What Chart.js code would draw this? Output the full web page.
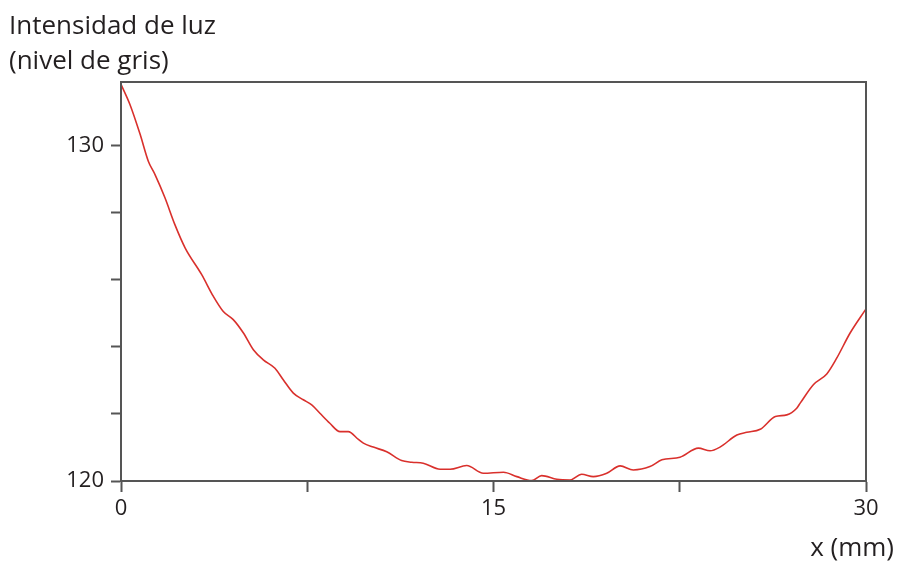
<!DOCTYPE html>
<html>
<head>
<meta charset="utf-8">
<script src="https://cdn.jsdelivr.net/npm/chart.js@4.4.0/dist/chart.umd.min.js"></script>
<style>
  html, body { margin: 0; padding: 0; background: #fff; }
  #wrap { width: 898px; height: 561px; position: relative; }
</style>
</head>
<body>
<div id="wrap"><canvas id="lightChart" width="898" height="561"></canvas></div>
<script>
// position along the sample (mm)
const xPositions = [
  0, 0.36, 0.77, 1.10, 1.37, 1.77, 2.17, 2.58, 3.25, 3.72, 4.12, 4.52, 4.93, 5.33, 5.73,
  6.20, 6.54, 6.94, 7.34, 7.68, 8.01, 8.41, 8.82, 9.15, 9.56, 9.76, 10.16, 10.70, 11.30,
  11.71, 12.17, 12.85, 13.25, 13.92, 14.59, 15.40, 15.94, 16.54, 16.94, 17.55, 18.08,
  18.55, 19.02, 19.56, 20.10, 20.63, 21.30, 21.78, 22.51, 23.25, 23.72, 24.12, 24.80,
  25.20, 25.74, 26.35, 26.81, 27.21, 27.35, 27.88, 28.42, 28.82, 29.36, 30.00
];
// grey level
const greyLevels = [
  131.82, 131.22, 130.33, 129.53, 129.13, 128.44, 127.64, 126.95, 126.15, 125.50, 125.05,
  124.81, 124.41, 123.91, 123.61, 123.36, 123.01, 122.62, 122.42, 122.27, 122.02, 121.72,
  121.47, 121.47, 121.24, 121.13, 121.01, 120.87, 120.61, 120.56, 120.53, 120.35, 120.35,
  120.46, 120.23, 120.26, 120.13, 120.01, 120.16, 120.05, 120.03, 120.20, 120.13, 120.23,
  120.45, 120.33, 120.43, 120.63, 120.71, 120.98, 120.90, 121.01, 121.37, 121.45, 121.54,
  121.92, 121.97, 122.17, 122.32, 122.87, 123.19, 123.66, 124.41, 125.13
];
const xTickLabels = [0, 15, 30];
const yTickLabels = [120, 130];

const axisColor = '#555';
const textColor = '#231f20';
const fontFamily = '"Open Sans", "Noto Sans", sans-serif';

// frame around the plot + free-standing axis titles
const framePlugin = {
  id: 'frame',
  afterDraw(chart) {
    const { ctx, chartArea } = chart;
    ctx.save();
    ctx.strokeStyle = axisColor;
    ctx.lineWidth = 2;
    ctx.strokeRect(chartArea.left, chartArea.top, chartArea.right - chartArea.left, chartArea.bottom - chartArea.top);
    ctx.fillStyle = textColor;
    ctx.font = '26px ' + fontFamily;
    ctx.textAlign = 'left';
    ctx.textBaseline = 'alphabetic';
    ctx.fillText('Intensidad de luz', 9, 34);
    ctx.fillText('(nivel de gris)', 9, 69);
    ctx.textAlign = 'right';
    ctx.fillText('x (mm)', 894, 556);
    ctx.restore();
  },
};

const data = xPositions.map((x, i) => ({ x: x, y: greyLevels[i] }));

new Chart(document.getElementById('lightChart'), {
  type: 'scatter',
  data: {
    datasets: [
      {
        data: data,
        showLine: true,
        borderColor: '#d9302c',
        borderWidth: 1.6,
        pointRadius: 0,
        cubicInterpolationMode: 'monotone',
        fill: false,
      },
    ],
  },
  options: {
    responsive: false,
    animation: false,
    layout: { padding: { top: 82, right: 32, left: 0, bottom: 0 } },
    plugins: {
      legend: { display: false },
      tooltip: { enabled: false },
    },
    scales: {
      x: {
        type: 'linear',
        min: 0,
        max: 30,
        afterFit: (s) => { s.height = 80; },
        ticks: {
          stepSize: 7.5,
          maxRotation: 0,
          padding: 4,
          color: textColor,
          font: { family: fontFamily, size: 22 },
          callback: (v) => (xTickLabels.includes(v) ? String(v) : ''),
        },
        grid: {
          drawOnChartArea: false,
          tickLength: 11,
          tickWidth: 2,
          tickColor: axisColor,
        },
        border: { color: axisColor, width: 2 },
      },
      y: {
        min: 120,
        max: 131.89,
        afterFit: (s) => { s.width = 121; },
        afterBuildTicks: (s) => {
          s.ticks = s.ticks.filter((t) => t.value <= 130.001);
        },
        ticks: {
          stepSize: 2,
          padding: 7,
          color: textColor,
          font: { family: fontFamily, size: 22 },
          callback: (v) => (yTickLabels.includes(v) ? String(v) : ''),
        },
        grid: {
          drawOnChartArea: false,
          tickLength: 10,
          tickWidth: 2,
          tickColor: axisColor,
        },
        border: { color: axisColor, width: 2 },
      },
    },
  },
  plugins: [framePlugin],
});
</script>
</body>
</html>
